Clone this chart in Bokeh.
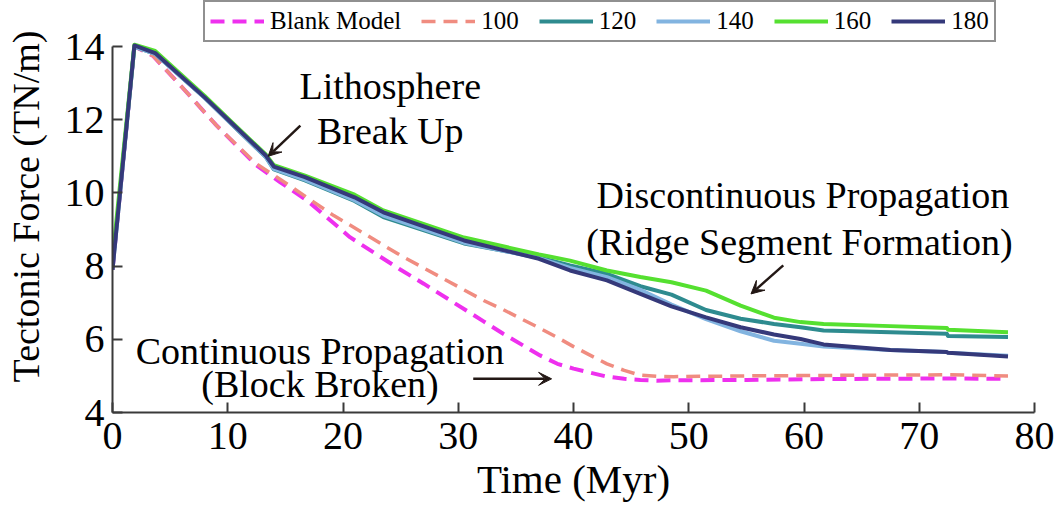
from bokeh.plotting import figure
from bokeh.models import Range1d, Legend, LegendItem, Label, Arrow, VeeHead, FixedTicker
from bokeh.embed import file_html
from bokeh.resources import INLINE

# ---------------- data ----------------
time_solid = [0.0, 1.9, 3.7, 8.0, 10.4, 13.3, 14.0, 16.7, 21.0, 23.5, 30.5, 37.0, 39.7,
              42.9, 45.8, 48.5, 51.5, 54.5, 57.4, 59.7, 61.7, 67.5, 72.4, 72.5, 77.7]
force_120 = [8.0, 14.0, 13.8, 12.6, 11.86, 10.98, 10.64, 10.34, 9.78, 9.34, 8.62, 8.24, 8.02,
             7.79, 7.45, 7.22, 6.80, 6.56, 6.42, 6.33, 6.24, 6.19, 6.15, 6.09, 6.06]
force_140 = [7.9, 14.0, 13.8, 12.6, 11.87, 10.98, 10.66, 10.36, 9.80, 9.38, 8.64, 8.22, 7.95,
             7.70, 7.35, 6.95, 6.55, 6.22, 5.96, 5.88, 5.80, 5.71, 5.65, 5.63, 5.55]
force_160 = [8.2, 14.05, 13.88, 12.65, 11.92, 11.05, 10.76, 10.47, 9.95, 9.52, 8.78, 8.32, 8.15,
             7.88, 7.70, 7.56, 7.33, 6.92, 6.59, 6.47, 6.42, 6.36, 6.31, 6.26, 6.19]
force_180 = [7.9, 14.03, 13.82, 12.61, 11.89, 11.02, 10.72, 10.43, 9.88, 9.47, 8.70, 8.20, 7.88,
             7.61, 7.24, 6.90, 6.60, 6.33, 6.13, 6.01, 5.86, 5.71, 5.65, 5.63, 5.53]

time_dash = [0.0, 1.9, 3.5, 6.0, 9.0, 12.5, 14.5, 16.9, 19.2, 20.6, 25.0, 27.0, 32.2, 33.9,
             37.1, 38.6, 40.0, 42.9, 44.4, 45.8, 47.2, 48.7, 55.0, 60.0, 66.0, 72.4, 77.7]
force_blank = [7.9, 14.0, 13.75, 12.9, 11.85, 10.75, 10.3, 9.79, 9.17, 8.79, 7.90, 7.52, 6.49, 6.15,
               5.56, 5.33, 5.20, 4.98, 4.92, 4.89, 4.87, 4.88, 4.89, 4.91, 4.92, 4.93, 4.92]
force_100 = [7.9, 14.0, 13.75, 12.9, 11.85, 10.79, 10.38, 9.87, 9.38, 9.12, 8.29, 7.95, 7.06, 6.81,
             6.30, 6.05, 5.80, 5.33, 5.15, 5.02, 4.99, 4.98, 5.00, 5.01, 5.02, 5.03, 5.00]

series_labels = ["Blank Model", "100", "120", "140", "160", "180"]
x_ticks = [0, 10, 20, 30, 40, 50, 60, 70, 80]
y_ticks = [4, 6, 8, 10, 12, 14]

FONT = "Liberation Serif"
C_BLANK = "#ee30ee"
C_100 = "#f08c80"
C_120 = "#2e8b8f"
C_140 = "#82b4e0"
C_160 = "#55e030"
C_180 = "#35397a"
C_ARROW = "#231815"

# frame spans to the top of the page so the legend (inside it) is not clipped;
# the y axis itself is bounded to 4..14
p = figure(width=1057, height=508, output_backend="svg", toolbar_location=None,
           x_range=Range1d(0, 80), y_range=Range1d(4, 15.257),
           min_border_left=112, min_border_right=23, min_border_top=0, min_border_bottom=96)
p.grid.visible = False
p.outline_line_color = None
p.background_fill_color = "white"
p.border_fill_color = "white"

r_blank = p.line(time_dash, force_blank, line_color=C_BLANK, line_width=4, line_dash="14 8")
r_100 = p.line(time_dash, force_100, line_color=C_100, line_width=3.5, line_dash="14 8")
r_120 = p.line(time_solid, force_120, line_color=C_120, line_width=4, line_join="round")
r_140 = p.line(time_solid, force_140, line_color=C_140, line_width=4, line_join="round")
r_160 = p.line(time_solid, force_160, line_color=C_160, line_width=4, line_join="round")
r_180 = p.line(time_solid, force_180, line_color=C_180, line_width=4, line_join="round")

renderers = [r_blank, r_100, r_120, r_140, r_160, r_180]

# axes
for ax in (p.xaxis[0], p.yaxis[0]):
    ax.axis_line_color = "#3a3a3a"
    ax.axis_line_width = 2
    ax.major_tick_line_color = "#3a3a3a"
    ax.major_tick_line_width = 2
    ax.major_tick_in = 10
    ax.major_tick_out = 0
    ax.minor_tick_line_color = None
    ax.major_label_text_font = FONT
    ax.major_label_text_font_size = "40px"
    ax.major_label_text_color = "black"
    ax.axis_label_text_font = FONT
    ax.axis_label_text_font_style = "normal"
    ax.axis_label_text_color = "black"

p.yaxis[0].bounds = (4, 14)
p.xaxis[0].ticker = FixedTicker(ticks=x_ticks)
p.yaxis[0].ticker = FixedTicker(ticks=y_ticks)
p.xaxis[0].axis_label = "Time (Myr)"
p.yaxis[0].axis_label = "Tectonic Force (TN/m)"
p.xaxis[0].axis_label_text_font_size = "41px"
p.yaxis[0].axis_label_text_font_size = "38px"
p.xaxis[0].major_label_standoff = 10
p.yaxis[0].major_label_standoff = 8
p.xaxis[0].axis_label_standoff = 4
p.yaxis[0].axis_label_standoff = 15

# legend
items = [LegendItem(label=l, renderers=[r]) for l, r in zip(series_labels, renderers)]
legend = Legend(items=items, orientation="horizontal", location=(91, 370))
legend.label_text_font = FONT
legend.label_text_font_size = "25px"
legend.label_text_color = "black"
legend.glyph_width = 54
legend.glyph_height = 24
legend.label_standoff = 6
legend.spacing = 20
legend.padding = 5
legend.margin = 0
legend.border_line_color = "#222222"
legend.border_line_width = 2
legend.background_fill_color = "white"
legend.background_fill_alpha = 1.0
p.add_layout(legend, "center")

# annotations
def add_label(x, y, text):
    p.add_layout(Label(x=x, y=y, text=text, text_font=FONT, text_font_size="38px",
                       text_align="center", text_baseline="middle", text_color="black"))

add_label(24.1, 12.91, "Lithosphere")
add_label(24.1, 11.70, "Break Up")
add_label(59.9, 9.93, "Discontinuous Propagation")
add_label(59.6, 8.67, "(Ridge Segment Formation)")
add_label(18.0, 5.69, "Continuous Propagation")
add_label(18.0, 4.79, "(Block Broken)")

def add_arrow(x0, y0, x1, y1):
    p.add_layout(Arrow(end=VeeHead(size=13, fill_color=C_ARROW, line_color=C_ARROW, line_width=1),
                       x_start=x0, y_start=y0, x_end=x1, y_end=y1,
                       line_color=C_ARROW, line_width=2.5))

add_arrow(16.3, 11.84, 13.5, 11.0)
add_arrow(58.2, 8.02, 55.4, 7.24)
add_arrow(31.3, 4.92, 38.1, 4.92)

open("out.html", "w").write(file_html(p, INLINE))
